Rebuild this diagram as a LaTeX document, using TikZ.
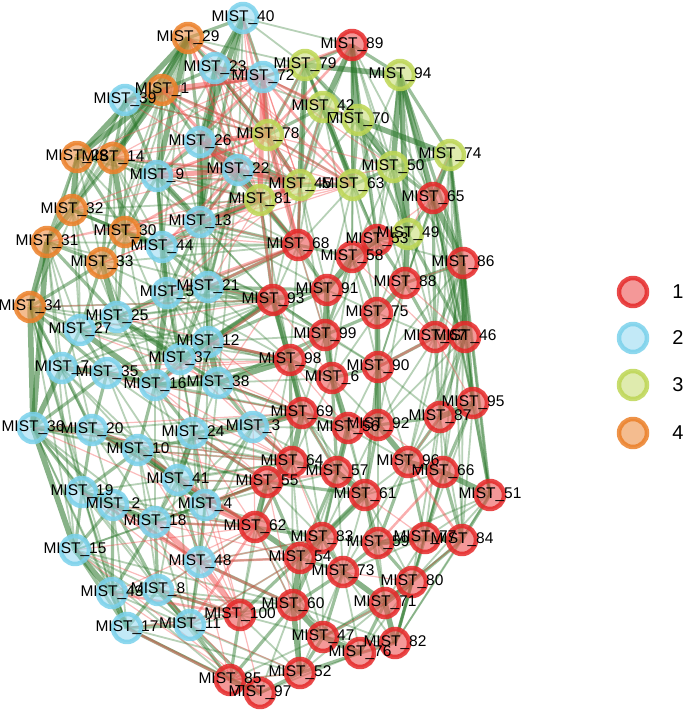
\documentclass[tikz,border=0pt]{standalone}
\usepackage{fontspec}
\setmainfont{Liberation Sans}
\usepackage{tikz}
\pgfdeclarelayer{edges}
\pgfsetlayers{edges,main}
\definecolor{ggqqgg}{rgb}{0.14,0.45,0.14}
\definecolor{ee4444}{rgb}{0.95,0.3,0.3}
\definecolor{ee3333}{rgb}{0.9,0.16,0.16}
\definecolor{ff5555}{rgb}{0.93,0.33,0.33}
\definecolor{77ccee}{rgb}{0.48,0.82,0.92}
\definecolor{99ddee}{rgb}{0.6,0.86,0.95}
\definecolor{bbdd55}{rgb}{0.74,0.84,0.33}
\definecolor{ccdd77}{rgb}{0.79,0.87,0.47}
\definecolor{ee8833}{rgb}{0.92,0.5,0.16}
\definecolor{ee9955}{rgb}{0.93,0.56,0.27}
\tikzset{
  vtx/.style={circle,minimum size=28pt,inner sep=0pt,line width=4.5pt,draw opacity=0.85,fill opacity=0.6},
  rn/.style={vtx,draw=ee3333,fill=ff5555},
  bn/.style={vtx,draw=77ccee,fill=99ddee},
  gn/.style={vtx,draw=bbdd55,fill=ccdd77},
  on/.style={vtx,draw=ee8833,fill=ee9955},
  lbl/.style={font=\fontsize{15.5}{16}\selectfont,inner sep=0pt},
  gA/.style={draw=ggqqgg,line width=5.5pt,draw opacity=0.55},
  gB/.style={draw=ggqqgg,line width=3.2pt,draw opacity=0.45},
  gC/.style={draw=ggqqgg,line width=1.8pt,draw opacity=0.33},
  rA/.style={draw=ee4444,line width=5pt,draw opacity=0.5},
  rB/.style={draw=ee4444,line width=2.5pt,draw opacity=0.45},
  rC/.style={draw=ee4444,line width=1.2pt,draw opacity=0.38}
}
\begin{document}
\begin{tikzpicture}[line cap=round,line join=round,x=1pt,y=-1pt]
    \useasboundingbox (0,0) rectangle (685,711);
    % group 2
    \foreach \n/\x/\y in {40/243/18,23/215/68,72/263/77,39/125/100,26/200/142,22/238/170,9/157/176,13/200/222,44/162/247,5/167/293,21/208/287,25/117/317,27/80/330,12/208/342,37/180/359,7/62/368,35/107/373,16/155/385,38/218/383,36/33/428,20/92/430,24/193/433,3/253/427,10/138/450,41/178/480,19/82/492,2/113/505,4/205/505,18/155/522,15/75/550,48/200/562,43/112/593,8/158/590,17/127/628,11/190/625}
      \node[bn] (m\n) at (\x,\y) {};
    % group 4
    \foreach \n/\x/\y in {29/188/38,1/162/90,28/77/157,14/113/158,32/72/210,30/125/232,31/47/242,33/102/263,34/30/307}
      \node[on] (m\n) at (\x,\y) {};
    % group 3
    \foreach \n/\x/\y in {79/305/65,94/400/75,42/323/107,70/358/120,78/268/135,74/450/155,50/393/167,45/300/185,63/353/185,81/260/200,49/408/234}
      \node[gn] (m\n) at (\x,\y) {};
    % group 1
    \foreach \n/\x/\y in {89/352/45,65/433/198,68/298/245,53/377/240,58/352/257,86/463/263,91/327/290,88/405/283,93/273/300,75/377/313,99/325/335,67/435/337,46/465/337,98/290/360,90/378/367,6/332/378,95/473/403,87/440/417,69/302/413,56/348/428,92/378/425,64/292/462,57/337/472,96/408/462,66/443/472,55/267/482,61/365/495,51/490/495,62/255/527,83/322/538,59/378/543,77/425/538,84/462/540,54/300/558,73/343/572,80/412/582,100/240/615,60/293/605,71/385/603,47/323/637,82/395/643,76/360/653,52/300/673,85/230/680,97/260/693}
      \node[rn] (m\n) at (\x,\y) {};
    \foreach \n in {1,...,100}
      \node[lbl] (l\n) at (m\n) {MIST\_\n};
    \begin{pgfonlayer}{edges}
    \foreach \a/\b in {29/14,29/28,29/1,1/14,1/28,40/26,40/23,29/9,23/13,26/13,9/13,14/30,28/32,32/31,31/34,34/36,36/15,31/36,15/43,43/17,8/11,33/25,30/44,44/5,5/16,25/37,27/16,7/35,35/16,37/12,16/38,20/10,10/41,19/2,2/18,41/4,24/41,36/20,7/36,12/38,
      94/50,94/49,94/65,70/74,79/94,89/70,89/42,79/45,42/63,70/50,74/65,50/49,65/86,49/88,53/58,58/91,91/99,93/98,99/6,98/69,6/56,90/92,75/90,88/75,67/46,87/95,86/46,69/64,64/55,57/61,56/57,92/96,96/66,66/51,61/83,83/54,54/60,73/71,59/77,77/84,80/71,71/82,60/47,47/76,52/60,85/97,62/55,62/54,
      12/93,38/98,3/69,21/93,13/81,22/81,26/45}
      \draw[gA] (m\a.center) -- (m\b.center);
    \foreach \a/\b in {39/1,39/14,39/9,28/14,14/9,14/32,28/31,32/30,30/33,31/33,33/34,34/27,34/7,27/25,25/5,5/21,21/12,44/13,13/21,9/44,26/22,23/26,40/72,29/23,29/26,1/9,1/26,30/25,33/27,27/7,7/20,35/20,20/19,19/15,15/2,2/10,10/16,16/24,24/3,38/3,37/38,37/16,12/24,41/18,18/8,8/43,43/2,4/48,48/11,17/8,17/11,15/17,36/19,36/35,31/25,32/44,28/30,14/33,9/30,9/5,44/21,13/5,22/21,22/13,26/9,23/1,40/29,40/13,34/35,27/35,25/16,5/37,21/37,12/16,36/2,19/10,20/41,10/4,41/48,2/8,18/43,4/18,24/4,3/4,
      89/79,89/94,89/63,79/42,79/70,42/70,42/78,78/45,78/79,72/79,45/63,63/50,70/63,94/74,74/50,74/86,94/86,50/65,65/49,49/53,63/53,45/68,81/68,81/93,68/91,68/58,53/88,58/75,88/86,86/67,65/67,91/93,93/99,99/98,98/6,6/90,90/67,75/99,67/87,46/95,46/87,95/66,87/92,87/96,56/92,69/56,69/57,64/57,55/61,57/83,61/59,96/59,66/77,51/84,84/80,77/80,59/73,83/73,54/73,60/73,71/76,82/80,76/52,47/52,97/52,85/60,62/83,64/62,55/54,100/85,100/54,89/53,70/49,79/63,42/45,81/45,86/95,86/51,74/46,65/46,49/46,88/67,53/75,58/99,91/6,93/69,98/64,6/57,90/61,92/61,96/77,66/84,95/51,57/54,61/71,83/60,59/80,73/47,71/47,82/76,80/82,
      12/98,38/69,21/68,13/68,22/45,22/68,26/81,72/78,23/78,24/55,3/64,41/62,4/55,48/60,11/85,11/97,17/85,8/100,37/93,16/98,5/93,44/81,10/3,24/69,38/99,12/91,21/91}
      \draw[gB] (m\a.center) -- (m\b.center);
    \foreach \a/\b in {29/33,29/30,29/44,1/30,1/33,1/13,39/32,39/30,28/33,28/44,14/44,14/5,32/25,32/27,31/27,31/7,34/20,34/19,34/15,36/43,36/17,15/8,19/43,19/18,2/17,20/2,7/19,7/10,35/10,35/41,27/37,25/12,25/38,5/12,5/38,44/12,30/37,33/16,33/5,13/37,13/12,9/21,26/21,22/12,22/38,23/22,40/22,40/9,72/22,72/26,37/24,16/41,24/18,38/4,3/48,41/8,4/11,18/11,48/8,10/18,16/4,12/3,21/38,
      89/45,89/50,89/49,79/50,79/81,42/50,42/81,70/65,70/45,78/63,94/63,94/88,94/46,74/88,74/67,74/95,50/53,50/58,63/58,63/91,45/91,45/93,81/98,68/99,68/93,53/91,58/90,88/90,86/87,86/66,86/96,46/66,46/51,95/84,67/92,75/6,75/92,90/96,90/56,99/69,98/55,6/64,69/55,56/61,92/59,96/61,66/80,51/77,51/80,87/66,87/77,57/73,61/73,83/47,59/71,77/71,84/82,80/76,54/47,62/60,55/100,64/54,60/76,73/76,73/82,52/85,97/60,47/82,65/88,49/67,53/86,
      15/85,43/52,17/97,19/62,2/55,20/64,7/93,27/98,25/93,35/69,31/68,32/81,14/81,28/22,9/45,1/78,29/79,39/72,23/42,40/79,40/89,30/93,33/68,44/68,13/93,21/98,12/6,38/56,3/57,24/57,41/64,4/83,48/54,18/62,10/55,11/60,8/85,17/52,
      34/93,34/98,36/64,36/55,15/55,15/60,19/64,20/69,7/68,27/68,25/91,35/93,31/93,32/68,28/81,14/45,39/78,1/45,29/42,29/78,23/79,23/45,26/68,9/68,9/93,13/91,44/93,5/98,21/99,12/99,37/98,16/69,38/6,24/64,3/56,10/64,41/55,4/57,18/55,48/62,48/83,8/60,11/54,17/60,43/60,2/62,20/62,
      89/65,89/58,79/68,79/53,42/68,42/58,70/53,70/88,78/68,78/93,94/53,94/67,74/87,50/88,50/86,63/68,63/75,45/99,81/91,68/98,93/90,91/75,99/90,98/57,6/92,6/61,69/61,56/96,90/87,67/96,46/96,95/77,87/84,66/61,51/59,84/59,80/61,77/73,59/83,61/54,57/60,64/60,55/83,62/47,54/52,60/82,73/52,71/52,76/97,47/85,100/52,100/47,62/100,65/90,49/75,53/99,58/6,88/92,75/67,86/90,46/92,95/96,66/82,51/82,84/71,80/47,96/73,92/83,56/83,69/83,64/73,
      29/32,29/31,1/32,1/44,39/31,39/34,28/34,28/27,14/25,14/13,32/35,31/20,34/25,36/10,36/18,15/18,15/11,19/8,19/17,2/48,20/18,7/41,35/24,27/12,25/21,5/24,44/16,30/16,33/37,13/16,9/37,26/12,22/37,23/21,40/21,72/21,72/13,37/41,16/18,24/48,38/41,3/18,41/11,10/8,12/4,21/24,
      74/51,74/84,86/84,94/95,65/51,65/95,86/80,34/43,34/17,31/15,36/11}
      \draw[gC] (m\a.center) -- (m\b.center);
    \foreach \a/\b in {18/48,1/72,26/78,9/22,22/45,72/78,23/72,48/100,4/62,72/81,78/68,26/22}
      \draw[rA] (m\a.center) -- (m\b.center);
    \foreach \a/\b in {29/72,29/22,1/22,1/78,39/72,14/22,9/78,9/72,23/78,40/78,26/81,13/78,13/45,44/22,30/22,5/68,21/68,12/98,3/69,3/64,24/55,41/62,4/55,48/54,18/62,11/62,8/100,17/85,43/100,48/60,10/62,16/93,72/42,72/63,78/45,78/63,81/93,45/68,89/72,89/78,2/48,19/48,90/67,69/92,55/57,62/64,59/66,96/84}
      \draw[rB] (m\a.center) -- (m\b.center);
    \foreach \a/\b in {36/62,15/62,7/98,35/98,27/93,25/68,33/81,31/45,32/78,28/78,14/72,39/22,29/45,40/45,23/63,26/63,9/63,13/63,44/45,5/45,21/81,12/69,37/69,16/64,24/62,10/64,41/100,19/100,2/62,15/100,43/62,8/62,11/54,48/83,4/64,18/100,3/62,38/64,36/69,20/55,34/93,30/68,1/63,29/63,72/50,72/70,78/50,22/63,81/63,45/50,79/78,42/45,100/97,85/52,62/60,55/60,64/83,69/57,98/56,93/6,68/99,58/67,88/46,65/53,49/58,74/49,86/88,67/95,87/96,92/66,61/77,73/80,71/84,47/71,76/82,
      9/81,14/78,28/72,32/22,31/81,33/45,30/45,44/63,5/81,13/68,26/45,23/81,40/81,39/78,1/81,29/81,72/45,72/68,22/68,78/93,81/68,12/64,37/64,16/55,24/100,10/100,41/55,4/100,18/54,2/100,15/97,43/97,8/97,17/100,11/52,48/85,3/98,38/93,21/93,35/64,20/62,36/64,7/69,25/98,27/69}
      \draw[rC] (m\a.center) -- (m\b.center);
    \end{pgfonlayer}
    % legend
    \node[rn] (k1) at (633,292) {};
    \node[bn] (k2) at (633,338) {};
    \node[gn] (k3) at (633,385) {};
    \node[on] (k4) at (633,433) {};
    \node[font=\fontsize{20}{22}\selectfont] (t1) at (678,292) {1};
    \node[font=\fontsize{20}{22}\selectfont] (t2) at (678,338) {2};
    \node[font=\fontsize{20}{22}\selectfont] (t3) at (678,385) {3};
    \node[font=\fontsize{20}{22}\selectfont] (t4) at (678,433) {4};
\end{tikzpicture}
\end{document}
